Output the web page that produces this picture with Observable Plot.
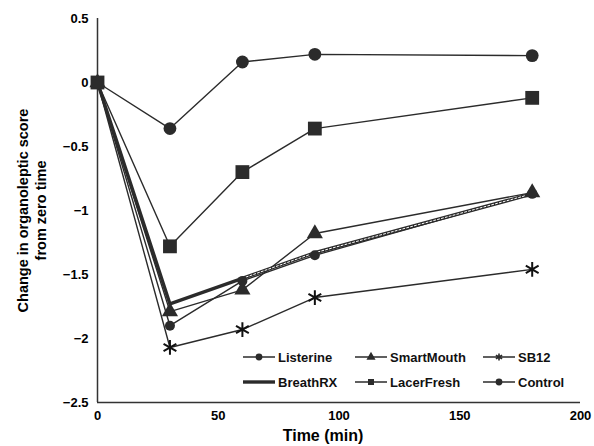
<!DOCTYPE html>
<html><head><meta charset="utf-8">
<script src="https://cdn.jsdelivr.net/npm/d3@7"></script>
<script src="https://cdn.jsdelivr.net/npm/@observablehq/plot@0.6"></script>
<style>
body{margin:0;background:#fff;}
#chart{width:594px;height:446px;}
svg text{font-family:"Liberation Sans",Arial,sans-serif;}
</style></head><body><div id="chart"></div>
<script>
const times = [0, 30, 60, 90, 180];
const seriesNames = ["Listerine", "SmartMouth", "SB12", "BreathRX", "LacerFresh", "Control"];
const listerine  = [0, -1.90, -1.55, -1.35, -0.87];
const smartMouth = [0, -1.79, -1.62, -1.18, -0.86];
const sb12       = [0, -2.07, -1.93, -1.68, -1.46];
const breathRX   = [0, -1.73, -1.53, -1.33, -0.87];
const lacerFresh = [0, -1.28, -0.70, -0.36, -0.12];
const control    = [0, -0.36, 0.16, 0.22, 0.21];
const xTicks = [0, 50, 100, 150, 200];
const yTicks = [-2.5, -2, -1.5, -1, -0.5, 0, 0.5];

const valuesByName = {Listerine: listerine, SmartMouth: smartMouth, SB12: sb12, BreathRX: breathRX, LacerFresh: lacerFresh, Control: control};
const style = {
  Listerine:  {symbol: "circle", r: 5, sw: 1.4},
  SmartMouth: {symbol: "triangle", r: 6, sw: 1.4},
  SB12:       {symbol: "asterisk", r: 7, sw: 1.4},
  BreathRX:   {symbol: null, r: 0, sw: 3.4},
  LacerFresh: {symbol: "square", r: 7.8, sw: 1.4},
  Control:    {symbol: "circle", r: 6.4, sw: 1.4}
};
const rows = seriesNames.flatMap(name => times.map((t, i) => ({name, t, v: valuesByName[name][i]})));
const ink = "#2b2b2b";
const fmt = d => d < 0 ? "\u2212" + Math.abs(d) : String(d);

const marks = [];
for (const name of seriesNames) {
  const d = rows.filter(r => r.name === name);
  const s = style[name];
  marks.push(Plot.line(d, {x: "t", y: "v", stroke: ink, strokeWidth: s.sw}));
  if (name === "BreathRX") {
    marks.push(Plot.line(d.slice(2), {x: "t", y: "v", stroke: "#fff", strokeWidth: 1, strokeDasharray: "2,2"}));
  }
}
for (const name of seriesNames) {
  const d = rows.filter(r => r.name === name);
  const s = style[name];
  if (!s.symbol) continue;
  if (s.symbol === "asterisk") {
    marks.push(Plot.dot(d.slice(1), {x: "t", y: "v", symbol: "asterisk", r: s.r, stroke: "#111", strokeWidth: 2}));
  } else {
    marks.push(Plot.dot(d, {x: "t", y: "v", symbol: s.symbol, r: s.r, fill: ink, stroke: "none"}));
  }
}

const plot = Plot.plot({
  width: 594,
  height: 446,
  marginLeft: 97,
  marginRight: 14,
  marginTop: 18,
  marginBottom: 44,
  style: {fontFamily: "Liberation Sans, Arial, sans-serif", background: "#fff", color: "#000"},
  x: {domain: [0, 200], ticks: xTicks},
  y: {domain: [-2.5, 0.5], ticks: yTicks},
  marks: [
    Plot.axisX({ticks: xTicks, tickSize: 0, tickPadding: 8, fontSize: 13, fontWeight: "bold", label: null}),
    Plot.axisY({ticks: yTicks, tickSize: 0, tickPadding: 9, fontSize: 13, fontWeight: "bold", label: null, tickFormat: fmt}),
    Plot.text(["Change in organoleptic score\nfrom zero time"], {frameAnchor: "left", textAnchor: "middle", lineAnchor: "middle", dx: -66, rotate: -90, fontSize: 14.5, fontWeight: "bold", lineHeight: 1.25, text: d => d}),
    Plot.text(["Time (min)"], {frameAnchor: "bottom", textAnchor: "middle", lineAnchor: "middle", dy: 33, dx: -16, fontSize: 16, fontWeight: "bold", text: d => d}),
    Plot.ruleX([0], {stroke: "#333", strokeWidth: 1.5}),
    Plot.ruleY([-2.5], {stroke: "#333", strokeWidth: 1.5}),
    ...marks
  ]
});
document.getElementById("chart").append(plot);

// Legend inside the plot
const legendCols = [243, 355, 483];
const legendRows = [357, 382];
const svg = d3.select(plot);
const lg = svg.append("g").attr("aria-label", "legend");
const symMap = {circle: d3.symbolCircle, triangle: d3.symbolTriangle, square: d3.symbolSquare, asterisk: d3.symbolAsterisk};
seriesNames.forEach((name, i) => {
  const cx = legendCols[i % 3];
  const cy = legendRows[Math.floor(i / 3)];
  const s = style[name];
  const g = lg.append("g").attr("transform", `translate(${cx},${cy})`);
  g.append("line").attr("x1", 0).attr("x2", 32).attr("y1", 0).attr("y2", 0)
    .attr("stroke", ink).attr("stroke-width", name === "BreathRX" ? 3.4 : 1.5);
  if (s.symbol) {
    const p = g.append("path").attr("transform", "translate(16,0)")
      .attr("d", d3.symbol(symMap[s.symbol], 36)());
    if (s.symbol === "asterisk") p.attr("fill", "none").attr("stroke", ink).attr("stroke-width", 1.6);
    else p.attr("fill", ink);
  }
  g.append("text").attr("x", 35).attr("y", 0).attr("dy", "0.35em").attr("text-anchor", "start")
    .attr("font-size", 13).attr("font-weight", "bold").attr("fill", "#111").text(name);
});
</script></body></html>
